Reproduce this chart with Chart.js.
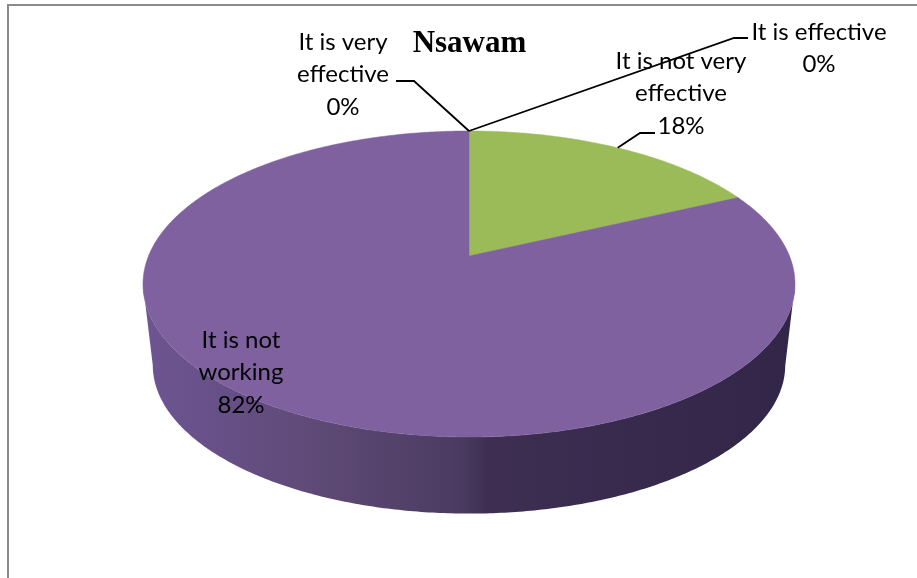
<!DOCTYPE html>
<html>
<head>
<meta charset="utf-8">
<title>Nsawam</title>
<script src="https://cdn.jsdelivr.net/npm/chart.js@4/dist/chart.umd.min.js"></script>
<style>
  html, body { margin: 0; padding: 0; background: #fff; }
  canvas { display: block; }
</style>
</head>
<body>
<canvas id="pieCanvas" width="917" height="578"></canvas>
<script>
var chartTitle = 'Nsawam';
var categories = ['It is very effective', 'It is effective', 'It is not very effective', 'It is not working'];
var values = [0, 0, 18, 82];
var sliceColors = ['#4f81bd', '#c0504d', '#9bbb59', '#7f61a0'];
var labelLines = [['It is very', 'effective'], ['It is effective'], ['It is not very', 'effective'], ['It is not', 'working']];

// where each label sits and its leader line (elbow points, the slice end is computed)
var labelPos = [[343, 42], [819, 32], [681, 61], [241, 340]];
var leaders = [[[414, 81], [396, 81]], [[734, 38], [748, 38]], [[640, 133], [655, 133]], null];

// tilted disc: projective map of the unit circle, apex is not the ellipse centre
var cx = 469, cy = 256, bx = 320.5, by = 147.9, persp = 0.183;
var wallScale = 0.97, wallDrop = 82;
var wallStops = [[0, '#6e5593'], [0.3, '#5c4873'], [0.49, '#4a3a60'], [0.53, '#3d2e52'], [1, '#322648']];

function project(theta) {
  var u = Math.sin(theta), v = Math.cos(theta), d = 1 + persp * v;
  return [cx + bx * u / d, cy - by * v / d];
}

function wallPoint(theta) {
  var p = project(theta);
  return [cx + (p[0] - cx) * wallScale, cy + (p[1] - cy) * wallScale + wallDrop];
}

var tiltedPie = {
  id: 'tiltedPie',
  beforeDraw: function (chart) {
    var ctx = chart.ctx;
    ctx.save();
    ctx.fillStyle = '#8a8a8a';
    ctx.fillRect(7, 4, 910, 2);
    ctx.fillRect(7, 4, 2, 574);
    ctx.restore();
  },
  beforeDatasetsDraw: function (chart) {
    var ctx = chart.ctx, arcs = chart.getDatasetMeta(0).data, i, t, p;
    var from = Math.acos(-persp), to = 2 * Math.PI - from;
    ctx.save();

    // side wall
    var wall = ctx.createLinearGradient(143, 0, 795, 0);
    wallStops.forEach(function (s) { wall.addColorStop(s[0], s[1]); });
    ctx.beginPath();
    for (t = from; t <= to; t += 0.01) {
      p = project(t);
      ctx.lineTo(p[0], p[1]);
    }
    for (t = to; t >= from; t -= 0.01) {
      p = wallPoint(t);
      ctx.lineTo(p[0], p[1]);
    }
    ctx.closePath();
    ctx.fillStyle = wall;
    ctx.fill();

    // top face, one path per slice from the arc element's own angles
    for (i = 0; i < arcs.length; i++) {
      var start = arcs[i].startAngle + Math.PI / 2, end = arcs[i].endAngle + Math.PI / 2;
      if (end - start <= 0) continue;
      ctx.beginPath();
      ctx.moveTo(cx, cy);
      for (t = start; t < end; t += 0.01) {
        p = project(t);
        ctx.lineTo(p[0], p[1]);
      }
      p = project(end);
      ctx.lineTo(p[0], p[1]);
      ctx.closePath();
      ctx.fillStyle = sliceColors[i];
      ctx.strokeStyle = sliceColors[i];
      ctx.lineWidth = 0.5;
      ctx.fill();
      ctx.stroke();
    }
    ctx.restore();
    return false;
  },
  afterDraw: function (chart) {
    var ctx = chart.ctx, arcs = chart.getDatasetMeta(0).data;
    ctx.save();
    arcs.forEach(function (arc, i) {
      if (leaders[i]) {
        var mid = (arc.startAngle + arc.endAngle) / 2 + Math.PI / 2;
        var p = project(mid);
        ctx.beginPath();
        ctx.moveTo(p[0], p[1]);
        leaders[i].forEach(function (q) { ctx.lineTo(q[0], q[1]); });
        ctx.strokeStyle = '#000';
        ctx.lineWidth = 1.8;
        ctx.stroke();
      }
      var lines = labelLines[i].concat([values[i] + '%']);
      ctx.font = '24px Lato';
      ctx.fillStyle = '#000';
      ctx.textAlign = 'center';
      ctx.textBaseline = 'middle';
      lines.forEach(function (line, n) {
        ctx.fillText(line, labelPos[i][0], labelPos[i][1] + n * 32.5);
      });
    });
    ctx.restore();
  }
};

function pieChartMethod() {
  new Chart(document.getElementById('pieCanvas').getContext('2d'), {
    type: 'pie',
    data: {
      labels: categories,
      datasets: [{
        data: values,
        backgroundColor: sliceColors,
        borderWidth: 0
      }]
    },
    options: {
      responsive: false,
      animation: false,
      layout: { padding: { left: 22 } },
      plugins: {
        legend: { display: false },
        tooltip: { enabled: false },
        title: {
          display: true,
          text: chartTitle,
          color: '#000',
          font: { family: 'Liberation Serif', size: 31, weight: 'bold' },
          padding: { top: 25, bottom: 10 }
        }
      }
    },
    plugins: [tiltedPie]
  });
}

document.addEventListener('DOMContentLoaded', function () {
  pieChartMethod();
});
</script>
</body>
</html>
